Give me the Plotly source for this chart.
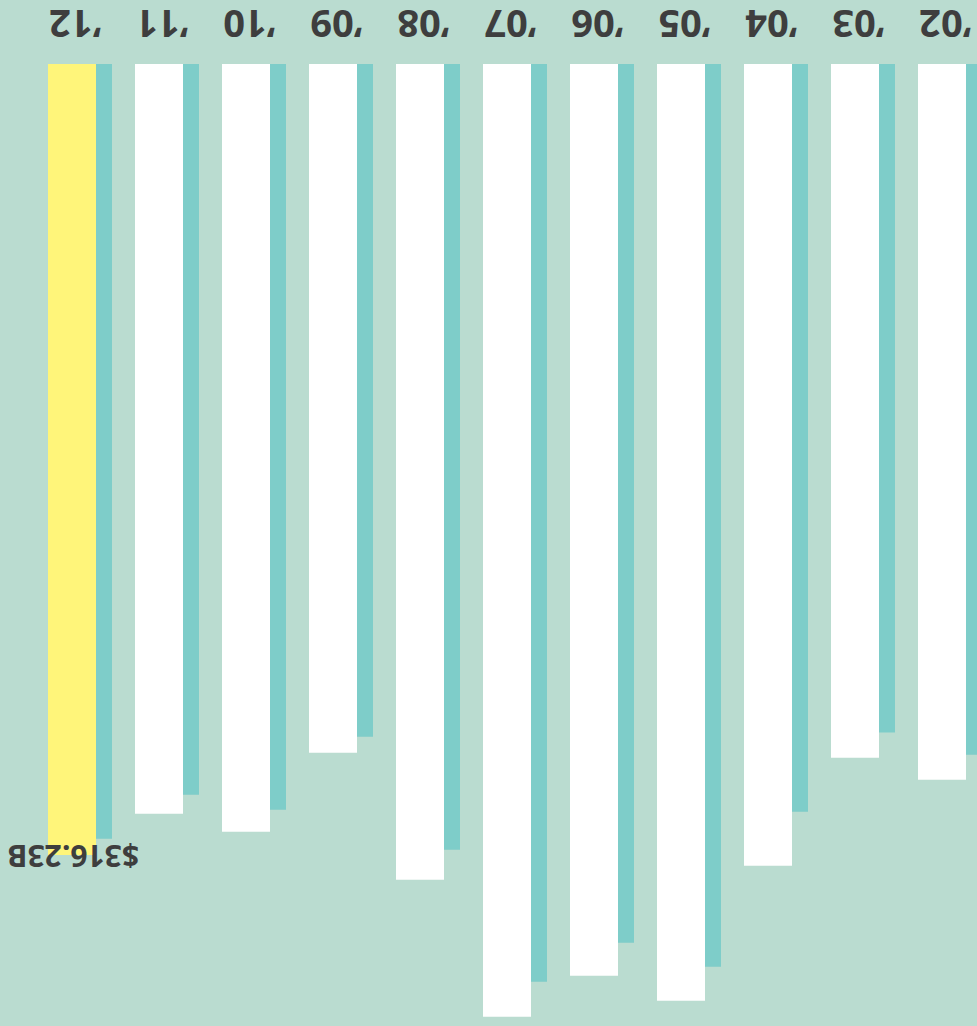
import plotly.graph_objects as go

# Data (in $ billions), categories ordered chronologically
years = ["\u201902", "\u201903", "\u201904", "\u201905", "\u201906", "\u201907",
         "\u201908", "\u201909", "\u201910", "\u201911", "\u201912"]
main_values = [286.1, 277.3, 320.5, 374.5, 364.5, 380.9, 326.1, 275.3, 306.9, 299.7, 316.23]
compare_values = [276.1, 267.3, 298.9, 360.9, 351.3, 366.9, 314.1, 268.9, 298.1, 292.1, 309.7]
highlight_label = "$316.23B"

BG = "#badcd0"
TEAL = "#7ecdc9"
WHITE = "#ffffff"
YELLOW = "#fff57a"
TEXT = "#3e3e3e"
FONT = "Open Sans"

W, H = 977, 1026
top_margin = 64
px_per_cat = 87.0
first_tick_px = 75.5
bar_px = 48

n = len(years)
a = (n - 1) + first_tick_px / px_per_cat
b = a - W / px_per_cat
bw = bar_px / px_per_cat

main_colors = [WHITE] * (n - 1) + [YELLOW]

fig = go.Figure()
fig.add_trace(go.Bar(
    x=years, y=compare_values, marker=dict(color=TEAL, line=dict(width=0)),
    width=bw, offset=-36.5 / px_per_cat, hoverinfo="x+y", name="compare",
))
fig.add_trace(go.Bar(
    x=years, y=main_values, marker=dict(color=main_colors, line=dict(width=0)),
    width=bw, offset=-20.5 / px_per_cat, hoverinfo="x+y", name="main",
))

# category labels (rotated upside down, above the baseline)
for yr in years:
    fig.add_annotation(
        x=yr, xref="x", y=1, yref="paper", text=yr, textangle=180,
        showarrow=False, xanchor="center", yanchor="middle", yshift=39,
        font=dict(family=FONT, size=38, color=TEXT, weight="bold"),
    )

fig.add_annotation(
    x=years[-1], y=main_values[-1], text=highlight_label, textangle=180,
    showarrow=False, xanchor="center", yanchor="middle", xshift=-2, yshift=-2,
    font=dict(family=FONT, size=30, color=TEXT, weight="bold"),
)

plot_h = H - top_margin
y_top = plot_h / 2.5014

fig.update_layout(
    width=W, height=H,
    margin=dict(l=0, r=0, t=top_margin, b=0, pad=0),
    paper_bgcolor=BG, plot_bgcolor=BG,
    barmode="overlay", showlegend=False,
    xaxis=dict(
        type="category", categoryorder="array", categoryarray=years,
        range=[a, b], showticklabels=False,
        showgrid=False, zeroline=False, showline=False, ticks="",
    ),
    yaxis=dict(
        range=[y_top, 0], showgrid=False, zeroline=False, showline=False,
        showticklabels=False, ticks="",
    ),
)

fig.write_html("out.html")
